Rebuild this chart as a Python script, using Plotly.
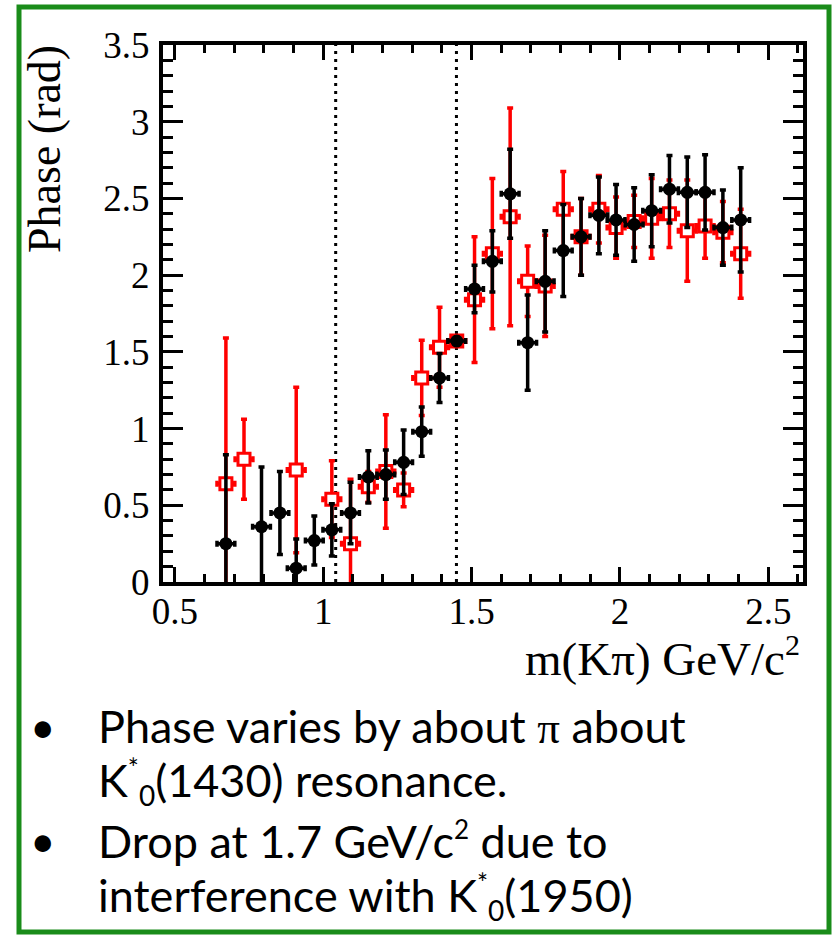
import plotly.graph_objects as go

# ---------------- data ----------------
mass_black = [0.672, 0.792, 0.854, 0.909, 0.970, 1.029, 1.092, 1.152, 1.211, 1.271,
              1.332, 1.392, 1.450, 1.510, 1.570, 1.630, 1.689, 1.748, 1.809, 1.869,
              1.929, 1.987, 2.048, 2.107, 2.167, 2.227, 2.287, 2.347, 2.407]
phase_black = [0.25, 0.36, 0.45, 0.09, 0.27, 0.34, 0.45, 0.685, 0.70, 0.78,
               0.98, 1.33, 1.57, 1.91, 2.09, 2.53, 1.56, 1.96, 2.16, 2.25,
               2.39, 2.36, 2.33, 2.42, 2.56, 2.54, 2.54, 2.31, 2.36]
err_black = [0.58, 0.39, 0.27, 0.19, 0.16, 0.17, 0.20, 0.17, 0.16, 0.21,
             0.16, 0.16, 0.01, 0.155, 0.20, 0.29, 0.31, 0.33, 0.30, 0.25,
             0.25, 0.23, 0.24, 0.235, 0.22, 0.23, 0.245, 0.245, 0.34]

mass_red = [0.672, 0.733, 0.909, 1.029, 1.092, 1.152, 1.211, 1.271, 1.332, 1.392,
            1.450, 1.510, 1.570, 1.630, 1.689, 1.748, 1.809, 1.869, 1.929, 1.987,
            2.048, 2.107, 2.167, 2.227, 2.287, 2.347, 2.407]
phase_red = [0.64, 0.80, 0.73, 0.54, 0.25, 0.62, 0.72, 0.60, 1.33, 1.53,
             1.57, 1.84, 2.14, 2.38, 1.96, 1.93, 2.43, 2.25, 2.43, 2.31,
             2.35, 2.37, 2.40, 2.29, 2.32, 2.28, 2.14]
err_red = [0.95, 0.26, 0.54, 0.25, 0.42, 0.10, 0.37, 0.11, 0.245, 0.26,
           0.01, 0.41, 0.49, 0.71, 0.23, 0.33, 0.245, 0.25, 0.22, 0.20,
           0.17, 0.26, 0.22, 0.33, 0.21, 0.20, 0.29]

half_bin = 0.03
boundary_lines = [1.042, 1.449]

x_ticks = [0.5, 1, 1.5, 2, 2.5]
x_tick_text = ["0.5", "1", "1.5", "2", "2.5"]
y_ticks = [0, 0.5, 1, 1.5, 2, 2.5, 3, 3.5]
y_tick_text = ["0", "0.5", "1", "1.5", "2", "2.5", "3", "3.5"]

SUP = '<sup><span style="font-size:26px">{}</span></sup>'
SUB = '<sub><span style="font-size:28px">{}</span></sub>'
bullet_lines = [
    ("Phase varies by about <span style=\"font-family:'Liberation Serif'\">π</span> about", True),
    ("K" + SUP.format("*") + SUB.format("0") + "(1430) resonance.", False),
    ("Drop at 1.7 GeV/c" + SUP.format("2") + " due to", True),
    ("interference with K" + SUP.format("*") + SUB.format("0") + "(1950)", False),
]

# ---------------- layout geometry (pixels) ----------------
W, H = 835, 938
L, R, T, B = 163, 803, 45, 582


def px(xp):
    return (xp - L) / (R - L)


def py(yp):
    return (B - yp) / (B - T)


fig = go.Figure()

fig.add_trace(go.Scatter(
    x=mass_red, y=phase_red, mode="markers",
    marker=dict(symbol="square", size=12, color="white",
                line=dict(color="#ff0000", width=3)),
    error_y=dict(type="data", array=err_red, color="#ff0000", thickness=3.5, width=3),
    error_x=dict(type="data", array=[half_bin] * len(mass_red), color="#ff0000",
                 thickness=3.5, width=3),
    showlegend=False,
))

fig.add_trace(go.Scatter(
    x=mass_black, y=phase_black, mode="markers",
    marker=dict(symbol="circle", size=13, color="black"),
    error_y=dict(type="data", array=err_black, color="black", thickness=3.5, width=3),
    error_x=dict(type="data", array=[half_bin] * len(mass_black), color="black",
                 thickness=3.5, width=3),
    showlegend=False,
))

for xv in boundary_lines:
    fig.add_shape(type="line", xref="x", yref="y", x0=xv, x1=xv, y0=0, y1=3.5,
                  line=dict(color="black", width=3, dash="3px,5px"), layer="below")

# green frame
fig.add_shape(type="rect", xref="paper", yref="paper",
              x0=px(19), x1=px(829), y0=py(932), y1=py(7),
              line=dict(color="#1a8c1a", width=5), layer="below")

serif = "Liberation Serif"
axis_common = dict(
    showline=True, linecolor="black", linewidth=4, mirror="allticks",
    ticks="inside", tickcolor="black", tickwidth=3,
    showgrid=False, zeroline=False,
    tickfont=dict(family=serif, size=37, color="black"),
)

fig.update_xaxes(
    range=[0.46, 2.617], tickvals=x_ticks, ticktext=x_tick_text, ticklen=15,
    minor=dict(dtick=0.1, tick0=0, ticks="inside", ticklen=8, tickwidth=3,
               tickcolor="black", showgrid=False),
    ticklabelstandoff=-6,
    **axis_common,
)
fig.update_yaxes(
    range=[0, 3.5], tickvals=y_ticks, ticktext=y_tick_text, ticklen=20,
    minor=dict(dtick=0.1, tick0=0, ticks="inside", ticklen=10, tickwidth=3,
               tickcolor="black", showgrid=False),
    ticklabelstandoff=2,
    **axis_common,
)

annotations = [
    dict(text="Phase (rad)", textangle=-90, x=px(44), y=py(149),
         xanchor="center", yanchor="middle",
         font=dict(family=serif, size=46, color="black")),
    dict(text="m(Kπ) GeV/c" + '<sup><span style="font-size:30px">2</span></sup>',
         x=px(802), y=py(656),
         xanchor="right", yanchor="middle",
         font=dict(family=serif, size=47, color="black")),
]

line_centers = [726, 782, 840, 897]
for (txt, bullet), yc in zip(bullet_lines, line_centers):
    if bullet:
        annotations.append(dict(text="•", x=px(43), y=py(yc), xanchor="center",
                                yanchor="middle",
                                font=dict(family="Lato", size=44, color="black")))
    annotations.append(dict(text=txt, x=px(96), y=py(yc), xanchor="left",
                            yanchor="middle",
                            font=dict(family="Lato", size=45, color="black")))

for a in annotations:
    a.update(xref="paper", yref="paper", showarrow=False)

fig.update_layout(
    width=W, height=H,
    margin=dict(l=L, r=W - R, t=T, b=H - B),
    paper_bgcolor="white", plot_bgcolor="white",
    annotations=annotations,
)

fig.write_html("out.html")
